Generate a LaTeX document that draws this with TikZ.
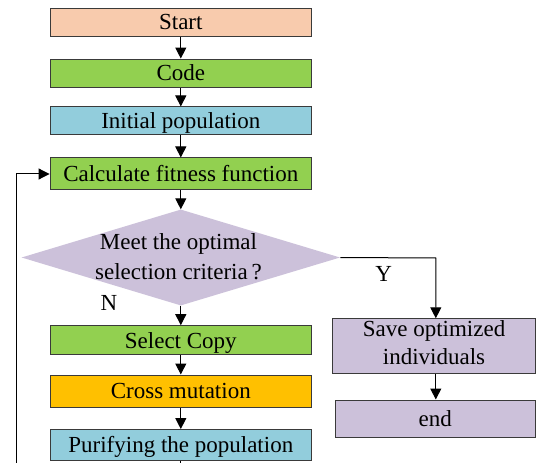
\documentclass[tikz,border=0pt]{standalone}
\usepackage{fontspec}
\setmainfont{Liberation Serif}
\usetikzlibrary{shapes.geometric,arrows.meta}
\definecolor{cpeach}{HTML}{F8CBAD}
\definecolor{cgreen}{HTML}{92D050}
\definecolor{cblue}{HTML}{92CDDC}
\definecolor{corange}{HTML}{FFC000}
\definecolor{cpurple}{HTML}{CCC1DA}
\definecolor{cborder}{HTML}{3A3A3A}
\tikzset{
  txt/.style={font=\fontsize{23bp}{28bp}\selectfont},
  box/.style={txt, draw=cborder, line width=1bp, rectangle, inner sep=0pt,
    minimum width=261.5bp, text height=15.6bp, text depth=0pt},
  mbox/.style={txt, draw=cborder, line width=1bp, rectangle, inner sep=0pt, align=center},
  arr/.style={line width=1bp, draw=black, -{Triangle[length=11bp,width=11bp]}},
  lab/.style={txt, inner sep=0pt}
}
\begin{document}
\begin{tikzpicture}[x=1bp,y=-1bp]
\useasboundingbox (0,0) rectangle (537,463);
\node[box, fill=cpeach, minimum height=27.7bp] (start) at (180.8,22.2) {Start};
\node[box, fill=cgreen, minimum height=28.3bp] (code) at (180.8,73.2) {Code};
\node[box, fill=cblue, minimum height=28bp] (init) at (180.8,121) {Initial population};
\node[box, fill=cgreen, minimum height=32bp] (calc) at (180.8,174) {Calculate fitness function};
\node[diamond, fill=cpurple, draw=none, inner sep=0pt, minimum width=318.5bp, minimum height=96bp] (dec) at (180.8,257.5) {};
\node[lab, align=center, font=\fontsize{23bp}{30bp}\selectfont] (dectxt) at (178.5,256.5) {Meet the optimal\\selection criteria\,?};
\node[box, fill=cgreen, minimum height=29bp] (sel) at (180.8,340.2) {Select Copy};
\node[box, fill=corange, minimum height=32bp] (cross) at (180.8,391) {Cross mutation};
\node[box, fill=cblue, minimum height=30.5bp] (pur) at (180.8,444.8) {Purifying the population};
\node[mbox, fill=cpurple, minimum width=203bp, minimum height=54.2bp, text depth=7bp] (save) at (434,345.9) {Save optimized\\individuals};
\node[box, fill=cpurple, minimum width=200.5bp, minimum height=37bp] (end) at (435.3,418.5) {end};
\node[lab] (ylab) at (383.6,273.6) {Y};
\node[lab] (nlab) at (109,303) {N};
\coordinate (loopL) at (16.4,490);
\coordinate (ycorner) at (435.8,258);
\draw[arr] (start) -- (code);
\draw[arr] (code) -- (init);
\draw[arr] (init) -- (calc);
\draw[arr] (calc) -- (dec.north);
\draw[arr] (dec.south) -- (sel);
\draw[arr] (sel) -- (cross);
\draw[arr] (cross) -- (pur);
\draw[arr] (dec.east) -- (ycorner) -- (ycorner |- save.north);
\draw[arr] (save.south -| ycorner) -- (end.north -| ycorner);
\draw[arr] (pur.south) |- (loopL) |- (calc.west);
\end{tikzpicture}
\end{document}
